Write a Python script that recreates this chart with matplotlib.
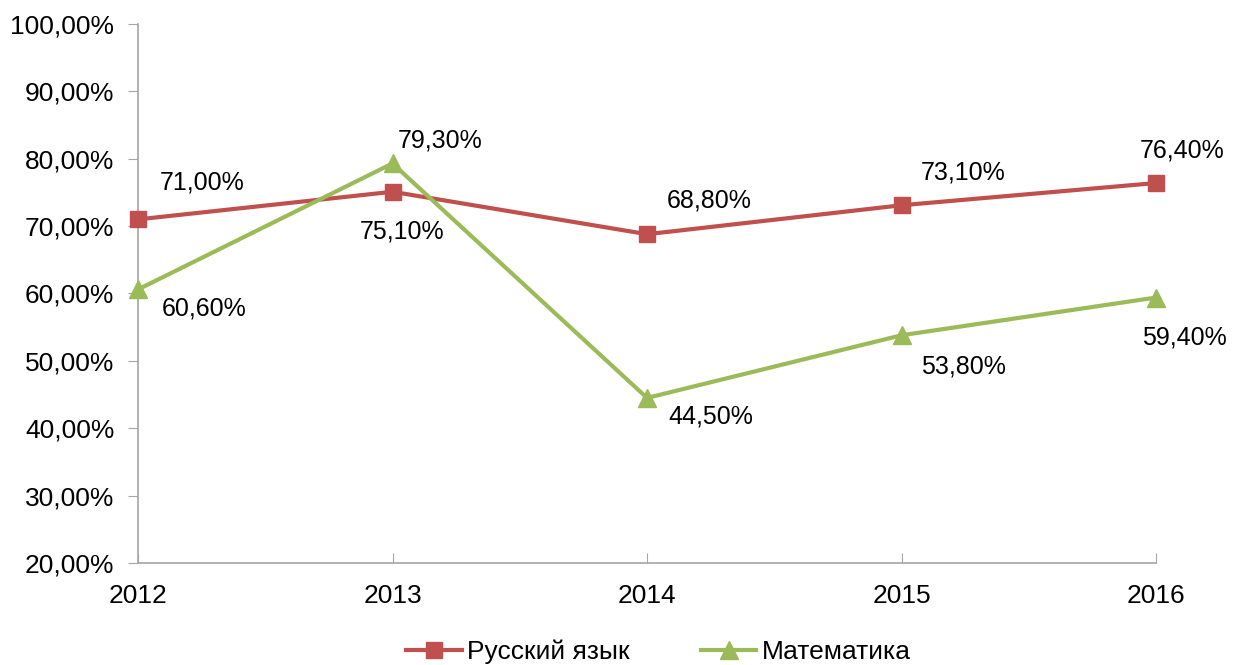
import matplotlib.pyplot as plt
from matplotlib.ticker import FuncFormatter

years = ["2012", "2013", "2014", "2015", "2016"]
russian = [71.0, 75.1, 68.8, 73.1, 76.4]
math = [60.6, 79.3, 44.5, 53.8, 59.4]

# label offsets in pixels (left edge of text, vertical centre)
rus_off = [(22, 37), (-33, -40), (20, 34), (19, 33), (-16, 33)]
math_off = [(24, -19), (5, 23), (21, -19), (19, -31), (-14, -40)]

plt.rcParams['font.family'] = ['Liberation Sans', 'DejaVu Sans']

fig = plt.figure(figsize=(12.4, 6.65), dpi=100)
ax = fig.add_axes([0.1113, 0.1534, 0.8210, 0.8105])

x = list(range(len(years)))
red = '#C0504D'
green = '#9BBB59'
ax.plot(x, russian, color=red, lw=3, marker='s', ms=12, label='Русский язык', clip_on=False, zorder=3)
ax.plot(x, math, color=green, lw=3, marker='^', ms=13, label='Математика', clip_on=False, zorder=3)

for i in x:
    ax.annotate(f"{russian[i]:.2f}%".replace('.', ','), (i, russian[i]),
                xytext=rus_off[i], textcoords='offset pixels',
                ha='left', va='center', fontsize=18)
    ax.annotate(f"{math[i]:.2f}%".replace('.', ','), (i, math[i]),
                xytext=math_off[i], textcoords='offset pixels',
                ha='left', va='center', fontsize=18)

ax.set_xlim(0, 4)
ax.set_ylim(20, 100)
ax.set_yticks(range(20, 101, 10))
ax.yaxis.set_major_formatter(FuncFormatter(lambda v, p: f"{v:.2f}%".replace('.', ',')))
ax.set_xticks(x)
ax.set_xticklabels(years)

for s in ['top', 'right']:
    ax.spines[s].set_visible(False)
for s in ['left', 'bottom']:
    ax.spines[s].set_color('#A6A6A6')
    ax.spines[s].set_linewidth(1.2)
ax.tick_params(axis='y', direction='out', length=7, color='#A6A6A6', labelsize=19, pad=10)
ax.tick_params(axis='x', direction='in', length=7, color='#A6A6A6', labelsize=19, pad=15)

fig.legend(loc='center', bbox_to_anchor=(0.531, 0.02), ncol=2, frameon=False,
           fontsize=19, handlelength=2.1, columnspacing=2.7, handletextpad=0.2)

fig.savefig('out.png', dpi=100)
